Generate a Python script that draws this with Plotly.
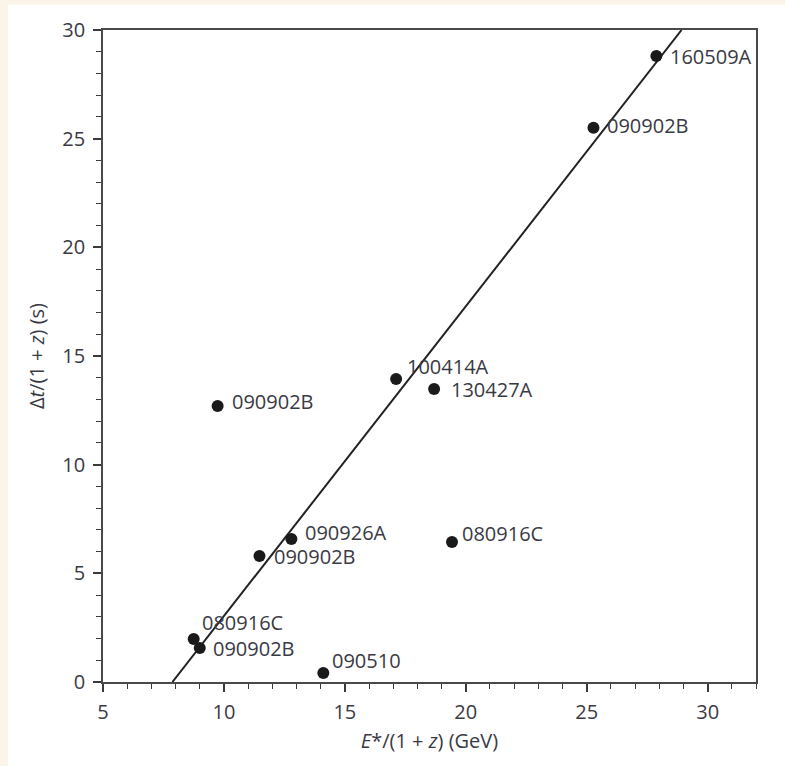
import plotly.graph_objects as go

# ---- data ----
grb_names = ["160509A", "090902B", "100414A", "130427A", "090902B", "090926A",
             "090902B", "080916C", "080916C", "090902B", "090510"]
energy = [27.88, 25.28, 17.12, 18.69, 9.74, 12.79, 11.47, 19.43, 8.75, 9.0, 14.11]
delay = [28.8, 25.5, 13.94, 13.48, 12.70, 6.58, 5.80, 6.44, 1.98, 1.56, 0.41]

fit_slope = 1.425
fit_x_intercept = 7.87
x_ticks = [5, 10, 15, 20, 25, 30]
y_ticks = [0, 5, 10, 15, 20, 25, 30]

# fitted line across the axis range
y_lo, y_hi = 0, 30
fit_x = [fit_x_intercept + y_lo / fit_slope, fit_x_intercept + y_hi / fit_slope]
fit_y = [y_lo, y_hi]

# label offsets (pixels) : style only
label_shift = [(13, 0), (13, 2), (10, 13), (16, 0), (13, 4), (13, 6),
               (14, -1), (9, 9), (7, 16), (12, 0), (8, 13)]

FONT = "Open Sans"
TXT = "#3a3a44"
FS = 20

fig = go.Figure()
fig.add_trace(go.Scatter(x=fit_x, y=fit_y, mode="lines",
                         line=dict(color="#222222", width=2), hoverinfo="skip"))
fig.add_trace(go.Scatter(x=energy, y=delay, mode="markers",
                         marker=dict(color="#1a1a1a", size=12), hoverinfo="skip"))

for name, xv, yv, (dx, dy) in zip(grb_names, energy, delay, label_shift):
    fig.add_annotation(x=xv, y=yv, text=name, showarrow=False,
                       xanchor="left", yanchor="middle", xshift=dx, yshift=dy,
                       borderpad=0,
                       font=dict(family=FONT, size=FS, color=TXT))

# beige page frame with white panel
fig.add_shape(type="rect", xref="paper", yref="paper",
              x0=(8 - 103) / 653, x1=(790 - 103) / 653,
              y0=(682 - 770) / 652, y1=(682 - 5) / 652,
              fillcolor="white", line=dict(width=0), layer="below")

axis_common = dict(
    showgrid=False, zeroline=False, showline=True, mirror=True,
    linecolor="#4a4a4a", linewidth=1.8,
    ticks="outside", ticklen=8, tickwidth=1.5, tickcolor="#3a3a3a",
    tickfont=dict(family=FONT, size=FS, color=TXT),
    minor=dict(dtick=1, ticks="outside", ticklen=5, tickwidth=1.2, tickcolor="#3a3a3a"),
)

fig.update_xaxes(range=[5, 32], tickvals=x_ticks, ticklabelstandoff=3, **axis_common,
                 title=dict(text="<i>E</i>*/(1 + <i>z</i>) (GeV)", standoff=10,
                            font=dict(family=FONT, size=FS, color=TXT)))
fig.update_yaxes(range=[0, 30], tickvals=y_ticks, ticklabelstandoff=4, **axis_common,
                 title=dict(text="Δ<i>t</i>/(1 + <i>z</i>) (s)", standoff=12,
                            font=dict(family=FONT, size=FS, color=TXT)))

fig.update_layout(
    width=785, height=766,
    margin=dict(l=103, r=29, t=30, b=84),
    paper_bgcolor="#fbf4e9", plot_bgcolor="white",
    showlegend=False,
)

fig.write_html("out.html", config={"displayModeBar": False},
               post_script="document.body.style.margin='0px';")
